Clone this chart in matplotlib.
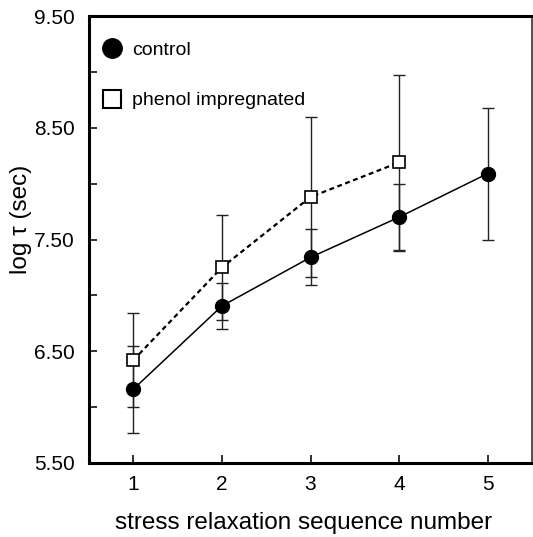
import matplotlib.pyplot as plt
from matplotlib.lines import Line2D

plt.rcParams['font.family'] = ['Liberation Sans', 'DejaVu Sans']

seq = [1, 2, 3, 4, 5]
control = [6.16, 6.905, 7.34, 7.70, 8.09]
control_err = [0.39, 0.21, 0.25, 0.30, 0.59]
phenol_seq = [1, 2, 3, 4]
phenol = [6.42, 7.25, 7.88, 8.19]
phenol_err = [0.42, 0.47, 0.72, 0.785]

yticks = [5.5, 6.0, 6.5, 7.0, 7.5, 8.0, 8.5, 9.0, 9.5]
ylabels = ['5.50', '', '6.50', '', '7.50', '', '8.50', '', '9.50']

fig = plt.figure(figsize=(5.33, 5.37), dpi=100)
ax = fig.add_axes([89 / 533, 1 - 463 / 537, 443 / 533, 447 / 537])

ax.errorbar(phenol_seq, phenol, yerr=phenol_err, fmt='none', ecolor='#222222',
            elinewidth=1.0, capsize=4.5, capthick=1.0, zorder=2)
ax.errorbar(seq, control, yerr=control_err, fmt='none', ecolor='#222222',
            elinewidth=1.0, capsize=4.5, capthick=1.0, zorder=2)
ax.plot(phenol_seq, phenol, linestyle=(0, (2.2, 1.6)), color='black', lw=1.6,
        marker='s', markersize=8.5, markerfacecolor='white', markeredgecolor='black',
        markeredgewidth=1.2, zorder=3)
ax.plot(seq, control, linestyle='-', color='black', lw=1.1,
        marker='o', markersize=10, markerfacecolor='black', markeredgecolor='black', zorder=3)

ax.set_xlim(0.5, 5.5)
ax.set_ylim(5.5, 9.5)
ax.set_xticks(seq)
ax.set_xticklabels([str(s) for s in seq])
ax.set_yticks(yticks)
ax.set_yticklabels(ylabels)
ax.tick_params(axis='both', direction='in', length=6, width=1.3, labelsize=15, color='#222222')
ax.tick_params(axis='x', pad=9)
ax.tick_params(axis='y', pad=10)
for side in ['left', 'bottom', 'top']:
    ax.spines[side].set_linewidth(2.2)
ax.spines['right'].set_linewidth(1.3)
ax.spines['right'].set_color('#444444')

ax.set_xlabel('stress relaxation sequence number', fontsize=17.5, va='center')
ax.xaxis.set_label_coords(0.485, -0.134)
ax.set_ylabel('log τ (sec)', fontsize=17.5, va='center')
ax.yaxis.set_label_coords(-0.153, 0.546)

handles = [
    Line2D([], [], linestyle='none', marker='o', markersize=14, markerfacecolor='black', markeredgecolor='black'),
    Line2D([], [], linestyle='none', marker='s', markersize=13.5, markerfacecolor='white',
           markeredgecolor='black', markeredgewidth=1.5),
]
ax.legend(handles, ['control', 'phenol impregnated'], loc='upper left', frameon=False,
          fontsize=14, handletextpad=0.55, labelspacing=1.7, borderaxespad=0, borderpad=0,
          handlelength=1.0, bbox_to_anchor=(0.029, 0.944))

fig.savefig('out.png', dpi=100)
